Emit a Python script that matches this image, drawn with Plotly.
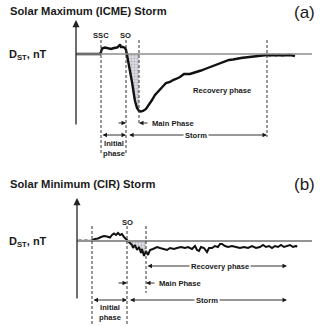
import plotly.graph_objects as go

# ---------------- data (time in hours, Dst in nT, schematic) ----------------
# (a) Solar maximum (ICME) storm
t_a = [0, 2, 4, 6, 8, 10, 12, 12.5, 13, 14.5, 16, 17.5, 19, 20.5, 21.5, 22, 22.5, 23.5, 24.5, 25,
       25.5, 26, 27, 28, 29, 29.5, 30.5, 31.5, 32.5, 33.5, 35, 36.5, 38, 39.5, 41, 42, 43.5, 45,
       47, 48.5, 50, 52, 54, 55.5, 57, 58.5, 60.5, 62.5, 64.5, 66.5, 68.5, 70.5, 72.5, 74.5, 76.5,
       78.5, 80.5, 82.5, 84.5, 86.5, 88.5, 90.5, 92.5, 94, 95.5, 97, 98.5, 100, 101.5, 103, 104.5,
       106.5, 108.5, 109.5]
dst_a = [0, 0, 1, 0, 1, 0, 0, 4, 11, 13, 12, 10, 12, 13, 16, 19, 14, 14, 12, 8,
         -2, -12, -32, -56, -82, -94, -108, -114, -115, -114, -110, -102, -92, -82, -76, -72, -64, -58,
         -56, -52, -50, -46, -40, -40, -40, -38, -36, -33, -30, -27, -24, -21, -18, -15, -12,
         -11, -9, -8, -7, -6, -5, -5, -4, -3, -2, -3, -2, -3, -2, -3, -2,
         -2, -3, -4]
phase_a = {"ssc": 12.5, "so": 25.0, "main_end": 31.5, "storm_end": 95.5}

# (b) Solar minimum (CIR) storm
t_b = [0, 1.5, 3, 4.5, 6, 7.5, 9, 10.5, 12, 13.5, 15, 16.5, 17.5, 18.5, 19.5, 20.5, 21.5, 22.5,
       23.5, 24.5, 25.5, 26.5, 27.5, 28, 29, 30, 31, 32, 32.5, 33.5, 34.5, 35.5, 36.5, 38, 40,
       41.5, 43, 45, 46.5, 48.5, 50, 52, 54, 55.5, 57.5, 59, 60, 61, 62, 63.5, 65, 66, 67.5, 69,
       70.5, 71.5, 72.5, 74, 75.5, 77.5, 79.5, 81.5, 83.5, 85.5, 87.5, 89.5, 91.5, 93, 94.5, 96,
       97.5, 99, 100.5, 102, 103.5, 105, 106.5, 108, 109.5, 110]
dst_b = [0, 1, 0, 1, 0, 1, 4, 5, 8, 10, 9, 7, 12, 15, 12, 16, 12, 14,
         8, 4, 0, -4, -8, -14, -8, -18, -12, -24, -16, -30, -20, -28, -18, -16, -12,
         -14, -16, -18, -14, -16, -14, -12, -14, -12, -16, -10, -18, -20, -12, -14, -22, -14, -14, -10,
         -12, -6, -6, -10, -12, -10, -12, -14, -12, -14, -10, -14, -12, -8, -12, -10,
         -14, -10, -12, -8, -12, -10, -8, -12, -10, -12]
phase_b = {"start": 7.5, "so": 25.0, "main_end": 34.5, "storm_end": 105.0}

titles = ["Solar Maximum (ICME) Storm", "Solar Minimum (CIR) Storm"]
panel_tags = ["(a)", "(b)"]
y_label = "D<sub>ST</sub>, nT"

# ---------------- styling ----------------
FONT = "Liberation Sans, Arial, Helvetica, sans-serif"
INK = "#1a1a1a"
DASH = "#333333"
SMALL = 7.6

fig = go.Figure()


def shade(t, d, t0, t1):
    xs = [t0] + [x for x in t if t0 < x <= t1] + [t1]
    ys = [0] + [y for x, y in zip(t, d) if t0 < x <= t1] + [0]
    return xs, ys


# shaded main-phase areas
for (t, d, ph, xa, ya) in [(t_a, dst_a, phase_a, "x", "y"), (t_b, dst_b, phase_b, "x2", "y2")]:
    xs, ys = shade(t, d, ph["so"], ph["main_end"])
    fig.add_trace(go.Scatter(x=xs, y=ys, mode="lines", line=dict(width=0), fill="toself",
                             fillcolor="#d4d4d8",
                             fillpattern=dict(shape=".", fgcolor="#8a8a94", bgcolor="#dcdce2",
                                              size=3, solidity=0.35),
                             xaxis=xa, yaxis=ya, hoverinfo="skip", showlegend=False))

# Dst curves
fig.add_trace(go.Scatter(x=t_a, y=dst_a, mode="lines", line=dict(color="#111", width=2.4),
                         xaxis="x", yaxis="y", showlegend=False))
fig.add_trace(go.Scatter(x=t_b, y=dst_b, mode="lines", line=dict(color="#111", width=2.0),
                         xaxis="x2", yaxis="y2", showlegend=False))

shapes = []
ann = []


def vline(xref, yref, x, y0, y1):
    shapes.append(dict(type="line", xref=xref, yref=yref, x0=x, x1=x, y0=y0, y1=y1,
                       line=dict(color=DASH, width=1, dash="3px,2px")))


def arrow(xref, yref, x_head, x_tail, y, both=False, width=0.9):
    ann.append(dict(xref=xref, yref=yref, axref=xref, ayref=yref, x=x_head, y=y, ax=x_tail, ay=y,
                    text="", showarrow=True, arrowhead=2, arrowsize=1.0, arrowwidth=width,
                    arrowcolor=INK, arrowside="end+start" if both else "end",
                    startarrowhead=2, startarrowsize=1.0))


def label(xref, yref, x, y, text, xanchor="center", bg=None, size=SMALL, bold=True):
    d = dict(xref=xref, yref=yref, x=x, y=y, text=f"<b>{text}</b>" if bold else text,
             showarrow=False, xanchor=xanchor, yanchor="middle",
             font=dict(family=FONT, size=size, color=INK))
    if bg:
        d["bgcolor"] = bg
        d["borderpad"] = 1
    ann.append(d)


# ---------- panel (a) ----------
shapes.append(dict(type="line", xref="x", yref="y", x0=0, x1=118, y0=0, y1=0,
                   line=dict(color="#8c8c8c", width=1.4)))
ann.append(dict(xref="x", yref="y", axref="x", ayref="y", x=0, y=68, ax=0, ay=-144, text="",
                showarrow=True, arrowhead=2, arrowsize=1.1, arrowwidth=1.3, arrowcolor="#222"))
vline("x", "y", phase_a["ssc"], 28, -202)
vline("x", "y", phase_a["so"], 28, -202)
vline("x", "y", phase_a["main_end"], 28, -142)
vline("x", "y", phase_a["storm_end"], 28, -166)
label("x", "y", phase_a["ssc"], 38, "SSC")
label("x", "y", phase_a["so"] - 0.5, 38, "SO")
arrow("x", "y", phase_a["so"], phase_a["so"] - 4.5, -138)
arrow("x", "y", phase_a["main_end"], phase_a["main_end"] + 5, -138)
label("x", "y", phase_a["main_end"] + 5.3, -138, "Main Phase", xanchor="left")
arrow("x", "y", phase_a["so"], phase_a["ssc"], -162, both=True)
arrow("x", "y", phase_a["storm_end"], phase_a["so"] + 0.8, -162, both=True)
label("x", "y", 60, -162, "Storm", bg="white")
label("x", "y", (phase_a["ssc"] + phase_a["so"]) / 2, -189, "Initial<br>phase")
label("x", "y", 73, -72, "Recovery phase")

# ---------- panel (b) ----------
shapes.append(dict(type="line", xref="x2", yref="y2", x0=0, x1=117.5, y0=0, y1=0,
                   line=dict(color="#939393", width=2)))
ann.append(dict(xref="x2", yref="y2", axref="x2", ayref="y2", x=0, y=86, ax=0, ay=-118, text="",
                showarrow=True, arrowhead=2, arrowsize=1.1, arrowwidth=1.3, arrowcolor="#222"))
vline("x2", "y2", phase_b["start"], 30, -166)
vline("x2", "y2", phase_b["so"], 30, -166)
vline("x2", "y2", phase_b["main_end"], 30, -104)
label("x2", "y2", phase_b["so"], 38, "SO")
arrow("x2", "y2", phase_b["storm_end"], phase_b["main_end"], -50, both=True)
label("x2", "y2", 71.5, -50, "Recovery phase", bg="white")
arrow("x2", "y2", phase_b["so"], phase_b["so"] - 5, -84)
arrow("x2", "y2", phase_b["main_end"], phase_b["main_end"] + 5, -84)
label("x2", "y2", phase_b["main_end"] + 5.3, -84, "Main Phase", xanchor="left")
arrow("x2", "y2", phase_b["so"], phase_b["start"], -118, both=True)
arrow("x2", "y2", phase_b["storm_end"], phase_b["so"] + 0.8, -118, both=True)
label("x2", "y2", 65, -118, "Storm", bg="white")
label("x2", "y2", (phase_b["start"] + phase_b["so"]) / 2, -143, "Initial<br>phase")

# ---------- titles / labels in paper coordinates ----------
H = 326.0
for i, (title, tag, ty, gy, ly) in enumerate(zip(titles, panel_tags, [11, 184], [12, 184.5], [55, 242])):
    ann.append(dict(xref="paper", yref="paper", x=8 / 320, y=1 - ty / H, text=f"<b>{title}</b>",
                    showarrow=False, xanchor="left", yanchor="middle",
                    font=dict(family=FONT, size=11.2, color=INK)))
    ann.append(dict(xref="paper", yref="paper", x=304.5 / 320, y=1 - gy / H, text=tag,
                    showarrow=False, xanchor="center", yanchor="middle",
                    font=dict(family=FONT, size=17, color=INK)))
    ann.append(dict(xref="paper", yref="paper", x=7 / 320, y=1 - ly / H, text=f"<b>{y_label}</b>",
                    showarrow=False, xanchor="left", yanchor="middle",
                    font=dict(family=FONT, size=11, color=INK)))

hidden = dict(visible=False, showgrid=False, zeroline=False, fixedrange=True)
fig.update_layout(
    width=320, height=326, margin=dict(l=0, r=0, t=0, b=0),
    paper_bgcolor="white", plot_bgcolor="white", showlegend=False,
    xaxis=dict(domain=[76 / 320, 312 / 320], range=[0, 118], anchor="y", **hidden),
    yaxis=dict(domain=[0.5, 1.0], range=[-218, 108], anchor="x", **hidden),
    xaxis2=dict(domain=[77 / 320, 312 / 320], range=[0, 117.5], anchor="y2", **hidden),
    yaxis2=dict(domain=[0.0, 0.5], range=[-170, 156], anchor="x2", **hidden),
    shapes=shapes, annotations=ann,
)

fig.write_html("out.html", config={"displayModeBar": False, "staticPlot": True},
               post_script="document.body.style.margin='0';document.body.style.overflow='hidden';")
